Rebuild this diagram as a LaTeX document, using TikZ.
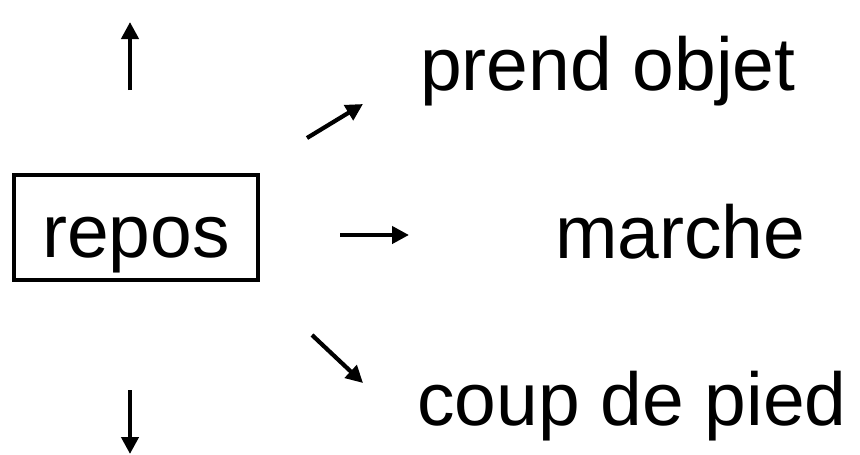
\documentclass[tikz,border=0pt]{standalone}
\usepackage{fontspec}
\setmainfont{Liberation Sans}
\usetikzlibrary{arrows.meta}
\begin{document}
\begin{tikzpicture}[x=1pt,y=-1pt,
  lbl/.style={inner sep=0pt,anchor=base west,font=\fontsize{75}{80}\selectfont},
  arr/.style={line width=4.2pt,-{Triangle[length=17pt,width=17pt]}}]
\useasboundingbox (0,0) rectangle (860,455);
\node[draw,line width=3.4pt,inner sep=0pt,anchor=base,minimum width=244pt,
  text height=82pt,text depth=23pt,font=\fontsize{75}{80}\selectfont] (repos) at (136,257) {repos};
\node[lbl] (prend) at (420,90) {prend objet};
\node[lbl] (marche) at (555,258) {marche};
\node[lbl] (coup) at (417,425) {coup de pied};
\coordinate (u1) at (130,90); \coordinate (u2) at (130,22);
\coordinate (d1) at (130,390); \coordinate (d2) at (130,454);
\coordinate (ne1) at (307,138); \coordinate (ne2) at (363,104);
\coordinate (r1) at (340,235); \coordinate (r2) at (409,235);
\coordinate (se1) at (312,335); \coordinate (se2) at (363,383);
\draw[arr] (u1) -- (u2);
\draw[arr] (d1) -- (d2);
\draw[arr] (ne1) -- (ne2);
\draw[arr] (r1) -- (r2);
\draw[arr] (se1) -- (se2);
\end{tikzpicture}
\end{document}
